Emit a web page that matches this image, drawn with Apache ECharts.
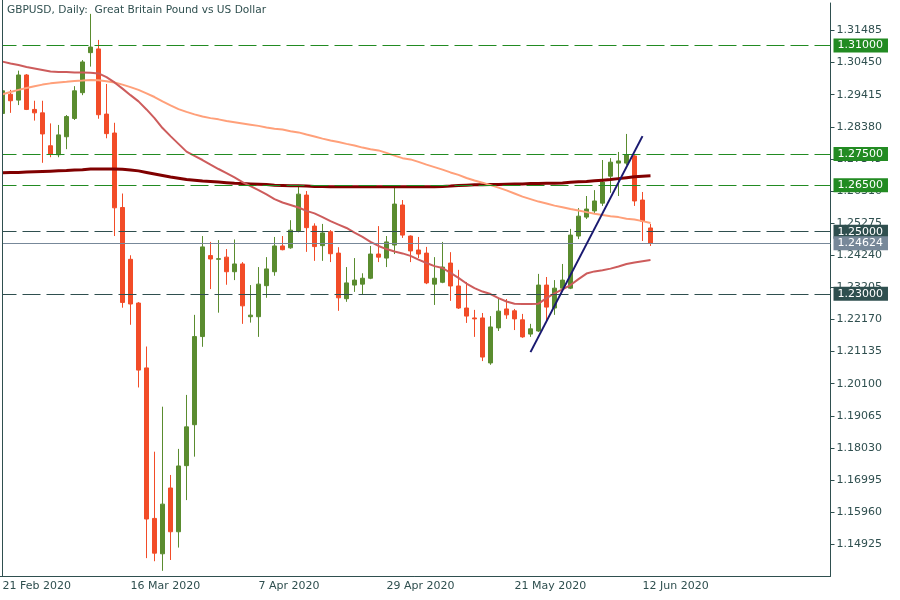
<!DOCTYPE html>
<html>
<head>
<meta charset="utf-8">
<title>GBPUSD, Daily</title>
<script src="https://cdn.jsdelivr.net/npm/echarts@6/dist/echarts.min.js"></script>
<style>
  html, body { margin: 0; padding: 0; background: #fff; }
  #chart { width: 900px; height: 600px; }
</style>
</head>
<body>
<div id="chart"></div>
<script>
  // daily bars from 21 Feb 2020, each one [open, close, low, high]
  const ohlc = [
    [1.2881, 1.2954, 1.2876, 1.2960], [1.2943, 1.2922, 1.2883, 1.2957], [1.2924, 1.3005, 1.2908, 1.3019],
    [1.3005, 1.2894, 1.2892, 1.3008], [1.2894, 1.2883, 1.2858, 1.2922], [1.2883, 1.2815, 1.2722, 1.2922],
    [1.2777, 1.2750, 1.2740, 1.2849], [1.2748, 1.2812, 1.2740, 1.2844], [1.2806, 1.2871, 1.2766, 1.2876],
    [1.2865, 1.2954, 1.2860, 1.2969], [1.2948, 1.3047, 1.2940, 1.3053], [1.3077, 1.3095, 1.3032, 1.3202],
    [1.3089, 1.2877, 1.2864, 1.3118], [1.2879, 1.2816, 1.2801, 1.2976], [1.2818, 1.2577, 1.2486, 1.2851],
    [1.2578, 1.2272, 1.2255, 1.2623], [1.2411, 1.2267, 1.2200, 1.2424], [1.2270, 1.2054, 1.1998, 1.2273],
    [1.2061, 1.1574, 1.1448, 1.2130], [1.1576, 1.1464, 1.1438, 1.1791], [1.1462, 1.1622, 1.1407, 1.1936],
    [1.1674, 1.1533, 1.1442, 1.1716], [1.1533, 1.1745, 1.1482, 1.1800], [1.1746, 1.1871, 1.1635, 1.1974],
    [1.1878, 1.2162, 1.1775, 1.2232], [1.2162, 1.2451, 1.2129, 1.2486], [1.2423, 1.2412, 1.2315, 1.2467],
    [1.2411, 1.2413, 1.2239, 1.2473], [1.2418, 1.2371, 1.2329, 1.2444], [1.2371, 1.2396, 1.2344, 1.2475],
    [1.2396, 1.2261, 1.2203, 1.2402], [1.2226, 1.2231, 1.2207, 1.2328], [1.2226, 1.2331, 1.2161, 1.2386],
    [1.2326, 1.2380, 1.2287, 1.2418], [1.2371, 1.2454, 1.2358, 1.2483], [1.2454, 1.2442, 1.2440, 1.2486],
    [1.2448, 1.2505, 1.2445, 1.2537], [1.2501, 1.2621, 1.2498, 1.2647], [1.2618, 1.2513, 1.2435, 1.2631],
    [1.2518, 1.2452, 1.2406, 1.2527], [1.2455, 1.2496, 1.2406, 1.2525], [1.2500, 1.2429, 1.2402, 1.2505],
    [1.2431, 1.2287, 1.2245, 1.2450], [1.2284, 1.2335, 1.2274, 1.2386], [1.2328, 1.2344, 1.2306, 1.2415],
    [1.2331, 1.2350, 1.2297, 1.2366], [1.2350, 1.2428, 1.2347, 1.2454], [1.2428, 1.2418, 1.2402, 1.2518],
    [1.2415, 1.2467, 1.2386, 1.2486], [1.2457, 1.2589, 1.2428, 1.2644], [1.2586, 1.2489, 1.2480, 1.2602],
    [1.2486, 1.2438, 1.2402, 1.2488], [1.2441, 1.2428, 1.2415, 1.2483], [1.2431, 1.2335, 1.2331, 1.2451],
    [1.2331, 1.2350, 1.2264, 1.2418], [1.2337, 1.2386, 1.2334, 1.2467], [1.2399, 1.2325, 1.2277, 1.2434],
    [1.2325, 1.2254, 1.2251, 1.2377], [1.2254, 1.2228, 1.2206, 1.2338], [1.2222, 1.2219, 1.2161, 1.2248],
    [1.2222, 1.2096, 1.2083, 1.2238], [1.2077, 1.2193, 1.2071, 1.2228], [1.2190, 1.2244, 1.2180, 1.2283],
    [1.2251, 1.2232, 1.2219, 1.2283], [1.2245, 1.2219, 1.2183, 1.2251], [1.2216, 1.2161, 1.2158, 1.2235],
    [1.2170, 1.2187, 1.2161, 1.2203], [1.2180, 1.2328, 1.2177, 1.2364], [1.2328, 1.2257, 1.2209, 1.2354],
    [1.2254, 1.2318, 1.2232, 1.2344], [1.2318, 1.2344, 1.2312, 1.2396], [1.2318, 1.2489, 1.2315, 1.2509],
    [1.2486, 1.2550, 1.2476, 1.2576], [1.2547, 1.2573, 1.2541, 1.2615], [1.2567, 1.2599, 1.2560, 1.2634],
    [1.2592, 1.2660, 1.2583, 1.2731], [1.2679, 1.2724, 1.2625, 1.2737], [1.2721, 1.2728, 1.2615, 1.2757],
    [1.2721, 1.2747, 1.2715, 1.2815], [1.2744, 1.2599, 1.2583, 1.2747], [1.2602, 1.2534, 1.2470, 1.2628],
    [1.2512, 1.24624, 1.2454, 1.2525]
  ];

  const ma50 = [
    1.3048, 1.3042, 1.3037, 1.3031, 1.3026, 1.3021, 1.3016, 1.3015, 1.3015, 1.3013,
    1.3013, 1.3012, 1.3010, 1.2998, 1.2981, 1.2961, 1.2940, 1.2920, 1.2894, 1.2866,
    1.2834, 1.2808, 1.2783, 1.2758, 1.2744, 1.2731, 1.2716, 1.2702, 1.2689, 1.2675,
    1.2660, 1.2647, 1.2634, 1.2620, 1.2605, 1.2594, 1.2586, 1.2578, 1.2567, 1.2559,
    1.2547, 1.2534, 1.2523, 1.2512, 1.2497, 1.2483, 1.2467, 1.2454, 1.2444, 1.2436,
    1.2430, 1.2422, 1.2410, 1.2399, 1.2389, 1.2383, 1.2367, 1.2351, 1.2333, 1.2318,
    1.2307, 1.2299, 1.2286, 1.2275, 1.2268, 1.2267, 1.2267, 1.2268, 1.2286, 1.2301,
    1.2314, 1.2328, 1.2347, 1.2365, 1.2372, 1.2376, 1.2381, 1.2388, 1.2396, 1.2401,
    1.2405, 1.2409
  ];

  const ma100 = [
    1.2943, 1.2950, 1.2957, 1.2963, 1.2969, 1.2974, 1.2978, 1.2981, 1.2983, 1.2986,
    1.2987, 1.2989, 1.2988, 1.2985, 1.2981, 1.2974, 1.2966, 1.2957, 1.2946, 1.2934,
    1.2920, 1.2907, 1.2895, 1.2886, 1.2878, 1.2871, 1.2866, 1.2862, 1.2857, 1.2853,
    1.2849, 1.2845, 1.2841, 1.2836, 1.2832, 1.2829, 1.2824, 1.2820, 1.2813, 1.2807,
    1.2800, 1.2794, 1.2789, 1.2783, 1.2778, 1.2771, 1.2766, 1.2762, 1.2754, 1.2745,
    1.2737, 1.2733, 1.2725, 1.2716, 1.2708, 1.2700, 1.2691, 1.2683, 1.2673, 1.2665,
    1.2658, 1.2650, 1.2642, 1.2633, 1.2623, 1.2613, 1.2605, 1.2597, 1.2591, 1.2584,
    1.2579, 1.2573, 1.2568, 1.2563, 1.2558, 1.2554, 1.2550, 1.2547, 1.2542, 1.2539,
    1.2534, 1.2528
  ];

  const ma200 = [
    1.2690, 1.2691, 1.2691, 1.2692, 1.2693, 1.2694, 1.2695, 1.2696, 1.2697, 1.2699,
    1.2700, 1.2702, 1.2702, 1.2702, 1.2702, 1.2701, 1.2699, 1.2696, 1.2691, 1.2686,
    1.2681, 1.2676, 1.2672, 1.2668, 1.2666, 1.2663, 1.2662, 1.2660, 1.2658, 1.2656,
    1.2655, 1.2654, 1.2653, 1.2652, 1.2650, 1.2649, 1.2648, 1.2648, 1.2647, 1.2646,
    1.2646, 1.2645, 1.2645, 1.2645, 1.2645, 1.2645, 1.2645, 1.2645, 1.2645, 1.2645,
    1.2645, 1.2645, 1.2645, 1.2645, 1.2645, 1.2646, 1.2647, 1.2649, 1.2650, 1.2651,
    1.2651, 1.2652, 1.2652, 1.2653, 1.2654, 1.2654, 1.2655, 1.2655, 1.2656, 1.2656,
    1.2657, 1.2659, 1.2661, 1.2662, 1.2664, 1.2666, 1.2668, 1.2671, 1.2674, 1.2677,
    1.2679, 1.2680
  ];

  // hand drawn trend line: [bar index, price]
  const trendPoints = [[66, 1.2112], [80, 1.2808]];

  const resistance = [1.31, 1.275, 1.265];
  const support = [1.25, 1.23];
  const lastPrice = 1.24624;

  const priceTicks = [
    1.14925, 1.15960, 1.16995, 1.18030, 1.19065, 1.20100, 1.21135, 1.22170, 1.23205,
    1.24240, 1.25275, 1.26310, 1.27345, 1.28380, 1.29415, 1.30450, 1.31485
  ];

  const title = 'GBPUSD, Daily:  Great Britain Pound vs US Dollar';
  const slots = 104; // bars that fit the window, the rest is empty space on the right

  const months = ['Jan', 'Feb', 'Mar', 'Apr', 'May', 'Jun', 'Jul', 'Aug', 'Sep', 'Oct', 'Nov', 'Dec'];
  const dates = [];
  const day = new Date(Date.UTC(2020, 1, 21));
  while (dates.length < slots) {
    const wd = day.getUTCDay();
    if (wd !== 0 && wd !== 6) {
      dates.push(day.getUTCDate() + ' ' + months[day.getUTCMonth()] + ' ' + day.getUTCFullYear());
    }
    day.setUTCDate(day.getUTCDate() + 1);
  }

  const trend = ohlc.map(() => null);
  trendPoints.forEach(p => { trend[p[0]] = p[1]; });

  const FONT = 'DejaVu Sans';
  const AXIS = '#2F4F4F';
  const UP = '#5A8C2F';
  const DOWN = '#F24C28';
  const GREEN = '#228B22';
  const GRAY = '#778899';

  const showDate = (i) => i % 16 === 0 && i < ohlc.length;

  const levelLine = (value, color, dashed) => ({
    yAxis: value,
    lineStyle: { color: color, width: 1, type: dashed ? [18, 6] : 'solid' },
    label: {
      show: true,
      position: 'end',
      distance: 3,
      formatter: value.toFixed(5),
      color: '#fff',
      backgroundColor: color,
      padding: [2, 5, 1, 4],
      fontSize: 11,
      fontFamily: FONT
    }
  });

  const chart = echarts.init(document.getElementById('chart'));
  chart.setOption({
    animation: false,
    backgroundColor: '#fff',
    title: {
      text: title,
      left: 7,
      top: 5,
      padding: 0,
      textStyle: { fontSize: 10.6, fontWeight: 'normal', color: AXIS, fontFamily: FONT }
    },
    grid: { left: -1.5, right: 69.5, top: 3, bottom: 24, outerBoundsMode: 'none' },
    xAxis: {
      type: 'category',
      data: dates,
      boundaryGap: true,
      axisLine: { lineStyle: { color: AXIS, width: 1 } },
      axisTick: { alignWithLabel: true, length: 4, interval: showDate, lineStyle: { color: AXIS } },
      axisLabel: {
        interval: showDate,
        align: 'left',
        color: AXIS,
        fontSize: 11,
        fontFamily: FONT,
        margin: 5
      },
      splitLine: { show: false }
    },
    yAxis: {
      type: 'value',
      position: 'right',
      min: 1.13904,
      max: 1.32370,
      axisLine: { show: true, lineStyle: { color: AXIS, width: 1 } },
      axisTick: { show: true, length: 4, customValues: priceTicks, lineStyle: { color: AXIS } },
      axisLabel: {
        customValues: priceTicks,
        formatter: v => v.toFixed(5),
        color: AXIS,
        fontSize: 11,
        fontFamily: FONT,
        margin: 6
      },
      splitLine: { show: false }
    },
    series: [
      {
        type: 'candlestick',
        data: ohlc,
        barWidth: 4,
        z: 3,
        itemStyle: {
          color: UP, color0: DOWN,
          borderColor: UP, borderColor0: DOWN,
          borderWidth: 1
        },
        markLine: {
          silent: true,
          precision: 5,
          symbol: ['none', 'none'],
          animation: false,
          data: resistance.map(v => levelLine(v, GREEN, true))
            .concat(support.map(v => levelLine(v, AXIS, true)))
            .concat([levelLine(lastPrice, GRAY, false)])
        }
      },
      {
        name: 'MA200', type: 'line', data: ma200, showSymbol: false, z: 4,
        lineStyle: { color: '#800000', width: 3 }
      },
      {
        name: 'MA100', type: 'line', data: ma100, showSymbol: false, z: 4,
        lineStyle: { color: '#FFA07A', width: 2 }
      },
      {
        name: 'MA50', type: 'line', data: ma50, showSymbol: false, z: 4,
        lineStyle: { color: '#CD5C5C', width: 2 }
      },
      {
        name: 'Trend', type: 'line', data: trend, connectNulls: true, showSymbol: false, z: 5,
        lineStyle: { color: '#191970', width: 2 }
      }
    ],
    graphic: [
      { type: 'rect', left: 0, top: 0, shape: { width: 2, height: 576 }, style: { fill: '#fff' }, z: 100 },
      { type: 'line', shape: { x1: 2.5, y1: 0, x2: 2.5, y2: 576 }, style: { stroke: AXIS, lineWidth: 1 }, z: 101 }
    ]
  });
  window.addEventListener('resize', function () {
    chart.resize();
  });
</script>
</body>
</html>
